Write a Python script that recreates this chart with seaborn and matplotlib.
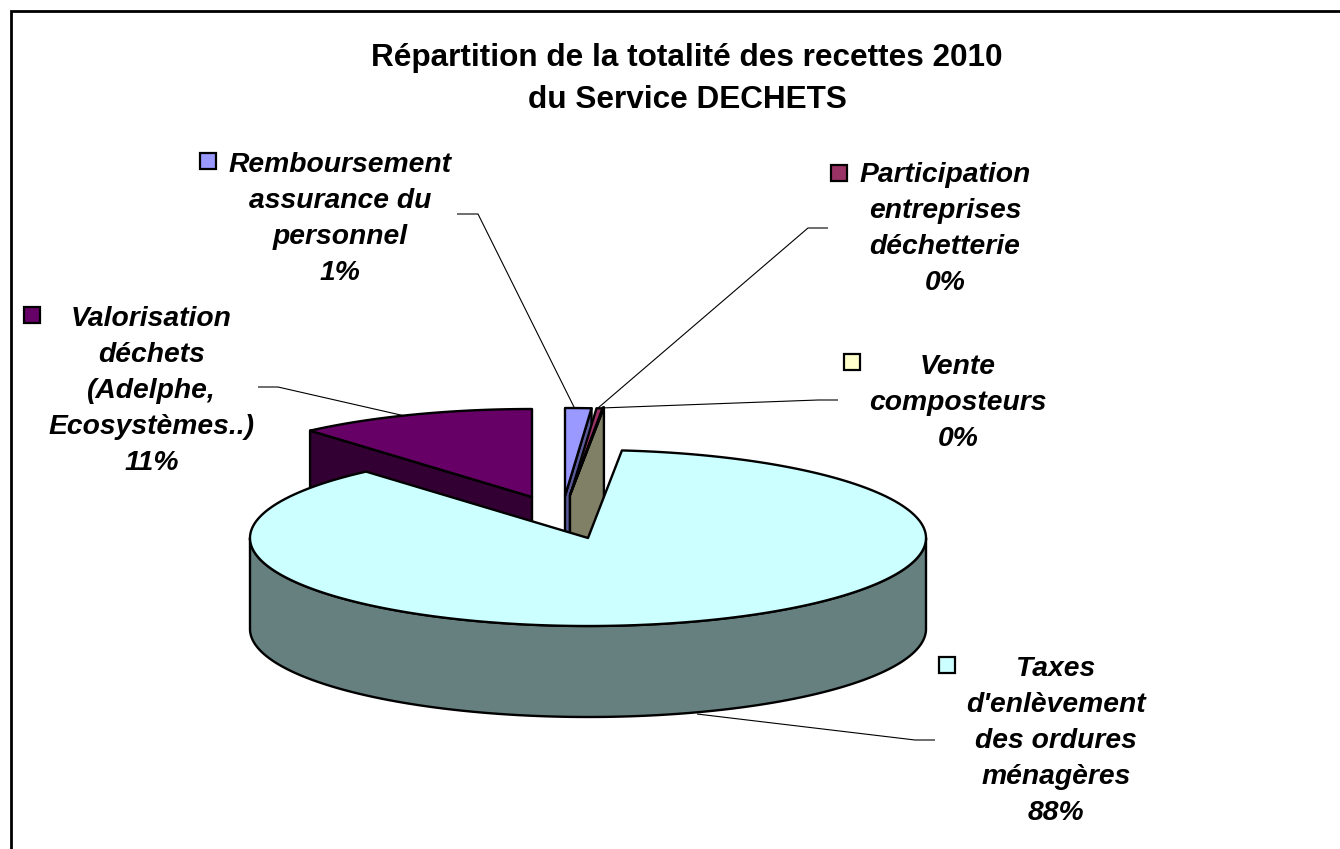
import numpy as np
import matplotlib
matplotlib.use("Agg")
import matplotlib.pyplot as plt
from matplotlib.patches import Polygon, Rectangle
import seaborn as sns

# ---- data ----
categories = [
    "Remboursement\nassurance du\npersonnel",
    "Participation\nentreprises\ndéchetterie",
    "Vente\ncomposteurs",
    "Taxes\nd'enlèvement\ndes ordures\nménagères",
    "Valorisation\ndéchets\n(Adelphe,\nEcosystèmes..)",
]
printed_percent = [1, 0, 0, 88, 11]
drawn_share = [1.25, 0.30, 0.05, 87.0, 11.4]   # slice sizes as drawn, clockwise from 12 o'clock
top_colors = ["#9999FF", "#993366", "#FFFFCC", "#CCFFFF", "#660066"]
side_colors = ["#5A5A99", "#5C1F3D", "#808066", "#668080", "#330033"]
title_text = "Répartition de la totalité des recettes 2010\ndu Service DECHETS"

# ---- layout (pixels) ----
W, H = 1340, 849
RX, RY, DEPTH = 338, 88, 91
tips = [(565, 496), (570, 496), (570, 495), (588, 538), (532, 497)]
label_xy = [(340, 218.5), (945, 229), (958, 402.5), (1056, 741), (151.5, 390.5)]
key_xy = [(208, 161), (839, 173), (852, 362), (947, 665), (32, 315)]
leader_lines = [
    ([457, 478, 575], [214, 214, 409]),
    ([828, 808, 598], [228, 228, 408]),
    ([838, 818, 601], [400, 400, 408]),
    ([935, 915, 697], [740, 740, 714]),
    ([258, 278, 405], [387, 387, 416]),
]
draw_order = [4, 0, 1, 2, 3]

sns.set_theme(style="white")
plt.rcParams["font.family"] = ["Liberation Sans", "DejaVu Sans"]

fig = plt.figure(figsize=(W / 100, H / 100), dpi=100, facecolor="white")
ax = fig.add_axes([0, 0, 1, 1])
ax.set_xlim(0, W)
ax.set_ylim(H, 0)
ax.axis("off")

ax.plot([10.5, 10.5, W], [H, 11, 11], color="black", lw=2, solid_joinstyle="miter", zorder=1)


def rim(tip, a0, a1):
    angles = np.radians(np.linspace(a0, a1, max(int(abs(a1 - a0)) * 2, 2)))
    return tip[0] + RX * np.sin(angles), tip[1] - RY * np.cos(angles)


edges = np.concatenate([[0], np.cumsum(drawn_share)]) * 3.6
LW = 1.7
z = 3
for i in draw_order:
    a0, a1 = edges[i], edges[i + 1]
    tip = tips[i]
    xs, ys = rim(tip, a0, a1)
    style = dict(edgecolor="black", linewidth=LW, joinstyle="round")
    if i == 3:
        # outer wall, only the front half of the rim shows
        wx, wy = rim(tip, 90, 270)
        wall = np.column_stack([np.r_[wx, wx[::-1]], np.r_[wy, wy[::-1] + DEPTH]])
    elif i == 4:
        # cut wall of the left-hand edge of the slice
        wall = [(tip[0], tip[1]), (xs[0], ys[0]), (xs[0], ys[0] + DEPTH), (tip[0], tip[1] + DEPTH)]
    else:
        # cut wall of the right-hand edge of the slice
        wall = [(tip[0], tip[1]), (xs[-1], ys[-1]), (xs[-1], ys[-1] + DEPTH), (tip[0], tip[1] + DEPTH)]
    ax.add_patch(Polygon(wall, facecolor=side_colors[i], zorder=z, **style))
    top = np.column_stack([np.r_[tip[0], xs], np.r_[tip[1], ys]])
    ax.add_patch(Polygon(top, facecolor=top_colors[i], zorder=z + 0.5, **style))
    z += 1

for lx, ly in leader_lines:
    ax.plot(lx, ly, color="black", lw=0.8, zorder=20, solid_capstyle="butt")

for name, pct, (x, y), (kx, ky), col in zip(categories, printed_percent, label_xy, key_xy, top_colors):
    ax.text(x, y, f"{name}\n{pct}%", ha="center", va="center", fontsize=20.3, fontweight="bold",
            fontstyle="italic", color="black", linespacing=1.5, zorder=30)
    ax.add_patch(Rectangle((kx - 8, ky - 8), 16, 16, facecolor=col, edgecolor="black", linewidth=1.6, zorder=30))

ax.text(687, 79, title_text, ha="center", va="center", fontsize=22.7, fontweight="bold",
        color="black", linespacing=1.49, zorder=30)

fig.savefig("out.png", dpi=100, facecolor="white")
